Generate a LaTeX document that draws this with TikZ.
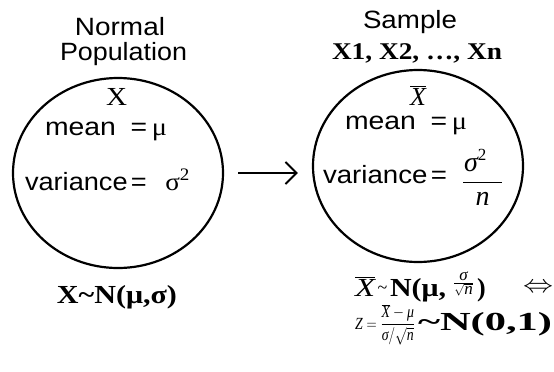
\documentclass[tikz,border=0pt]{standalone}
\usepackage{fontspec}
\setmainfont{Liberation Serif}
\newfontfamily\sansf{Liberation Sans}
\usetikzlibrary{shapes.geometric,arrows.meta}
\newcommand\fsz[1]{\fontsize{#1}{#1}\selectfont}
\newcommand\mi[1]{\hbox{\itshape #1}}
\newcommand\hw[2]{\resizebox{#1}{\height}{#2}}
\begin{document}
\begin{tikzpicture}[x=1pt,y=-1pt,
  circ/.style={draw, ellipse, line width=2.2pt, inner sep=0pt},
  lbl/.style={inner sep=0pt, outer sep=0pt, anchor=base},
  lblw/.style={inner sep=0pt, outer sep=0pt, anchor=base west},
  arr/.style={line width=2pt, -{Straight Barb[length=11pt,width=22pt]}}]
\useasboundingbox (0,0) rectangle (554,372);
% circles
\node[circ, minimum width=210pt, minimum height=190pt] (L) at (118,173) {};
\node[circ, minimum width=210pt, minimum height=192pt] (R) at (418,166) {};
\draw[arr, shorten <=14pt, shorten >=14pt] (L.east) -- (L.east -| R.west);
% left side
\node[lbl] (t1) at (120,35) {\sansf\fsz{25}\hw{90pt}{Normal}};
\node[lbl] (t2) at (123.5,60) {\sansf\fsz{25}\hw{127pt}{Population}};
\node[lbl] (xl) at (116.5,105) {\fsz{26}\hw{21pt}{X}};
\node[lblw] (ml) at (45,135) {\fsz{25}\hw{122pt}{\sansf mean\hspace{13pt}=\hspace{4pt}\rmfamily μ}};
\node[lblw] (vl) at (25,190) {\fsz{25}\hw{165pt}{\sansf variance\hspace{3pt}=\hspace{17pt}\rmfamily σ\textsuperscript{2}}};
\node[lbl] (dl) at (117,303) {\fsz{26}\bfseries\hw{120pt}{X\textasciitilde N(μ,σ)}};
% right side
\node[lbl] (s1) at (410,28) {\sansf\fsz{25}\hw{94pt}{Sample}};
\node[lbl] (s2) at (417,59) {\fsz{24}\bfseries\hw{170pt}{X1, X2, …, Xn}};
\node[lbl] (xr) at (418,105) {\fsz{26}$\overline{\mi{X}}$};
\node[lblw] (mr) at (345,129) {\fsz{25}\hw{122pt}{\sansf mean\hspace{13pt}=\hspace{4pt}\rmfamily μ}};
\node[lblw] (vr) at (323,183) {\fsz{25}\hw{124pt}{\sansf variance\hspace{3pt}=}};
\node[lbl] (fr) at (482.5,188) {\fsz{28}$\displaystyle\frac{\hbox to 39pt{\itshape\hskip1pt σ\upshape\raise11pt\hbox{\fsz{17}2}\hfil}}{\mi{n}}$};
% distribution of the mean
\node[lblw] (b1) at (355,296) {\fsz{26}\hw{20pt}{$\overline{\mi{X}}$}};
\node[lbl] (b2) at (382.5,293) {\fsz{18}\textasciitilde};
\node[lblw] (b3) at (390,296) {\fsz{26}\bfseries\hw{56pt}{N(μ,}};
\node[lbl] (b4) at (463.5,287.5) {\fsz{18}$\frac{\hbox{\fsz{17}\itshape σ}}{\sqrt{\hbox{\fsz{17}\itshape n}}}$};
\node[lblw] (b5) at (477,296) {\fsz{26}\bfseries )};
\node[lbl] (b6) at (538,292.5) {\fsz{26}\hw{30pt}{$\Leftrightarrow$}};
% standardisation
\node[lblw] (z1) at (355,329) {\fsz{17}\hw{60pt}{$\mi{Z}=\displaystyle\frac{\overline{\mi{X}}-\mi{μ}}{\mi{σ}/\sqrt{\mi{n}}}$}};
\node[lblw] (z2) at (418,330) {\fsz{26}\bfseries\hw{134pt}{\textasciitilde N(0,1)}};
\end{tikzpicture}
\end{document}
